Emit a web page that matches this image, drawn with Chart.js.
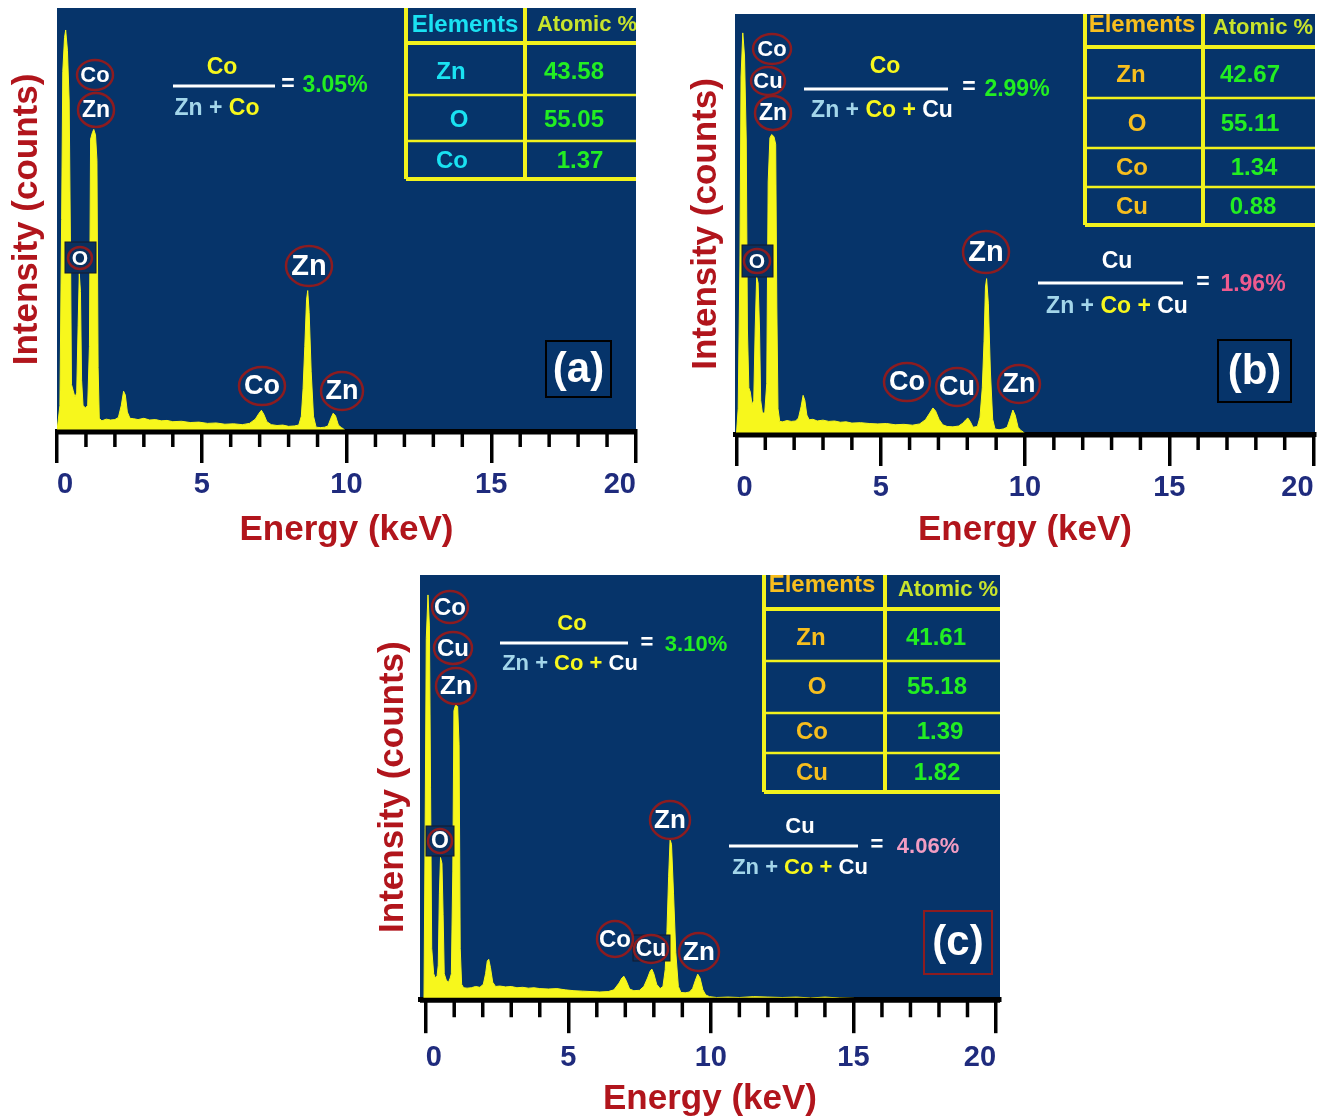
<!DOCTYPE html>
<html>
<head>
<meta charset="utf-8">
<script src="https://cdn.jsdelivr.net/npm/chart.js@4.4.1/dist/chart.umd.min.js"></script>
<style>
  body { margin: 0; background: #fff; }
  #wrap { position: relative; width: 1327px; height: 1117px; overflow: hidden; background: #fff; }
  #wrap canvas { position: absolute; left: 0; top: 0; }
</style>
</head>
<body>
<div id="wrap">
  <canvas id="chartA" width="1327" height="1117"></canvas>
  <canvas id="chartB" width="1327" height="1117"></canvas>
  <canvas id="chartC" width="1327" height="1117"></canvas>
</div>
<script>
// tick values (keV)
const xMajor = [0, 5, 10, 15, 20];
const xMinor = [1, 2, 3, 4, 6, 7, 8, 9, 11, 12, 13, 14, 16, 17, 18, 19];

// (a) Zn-Co-O spectrum
const energyA = [0, 0.1, 0.16, 0.2, 0.26, 0.3, 0.36, 0.42, 0.47, 0.5, 0.56, 0.62, 0.68, 0.73, 0.77, 0.81, 0.85, 0.9, 0.98, 1.06,
  1.12, 1.16, 1.22, 1.27, 1.33, 1.38, 1.42, 1.46, 1.55, 1.7, 1.85, 2.0, 2.12, 2.22, 2.3, 2.36, 2.43, 2.52, 2.65,
  2.8, 3.0, 3.2, 3.4, 3.6, 3.8, 4.0, 4.3, 4.6, 4.9, 5.2, 5.5, 5.8, 6.1, 6.4, 6.65, 6.85, 6.98, 7.06, 7.14,
  7.25, 7.4, 7.6, 7.8, 8.0, 8.2, 8.35, 8.44, 8.5, 8.56, 8.62, 8.66, 8.71, 8.78, 8.86, 8.95, 9.1, 9.25, 9.36, 9.46, 9.54,
  9.62, 9.72, 9.82, 9.9, 9.96];
const countsA = [0, 60, 500, 850, 930, 948, 900, 780, 400, 110, 95, 80, 90, 250, 372, 330, 120, 60, 55, 60,
  200, 690, 705, 713, 700, 640, 150, 30, 24, 28, 26, 27, 32, 60, 94, 85, 45, 30, 29,
  27, 30, 26, 27, 24, 25, 22, 23, 20, 21, 18, 19, 16, 17, 15, 18, 28, 42, 49, 40,
  22, 15, 13, 14, 11, 12, 14, 35, 100, 200, 310, 332, 280, 140, 35, 9, 8, 9, 12, 30, 42,
  36, 14, 8, 5, 0];

// (b) Zn-Co-Cu-O spectrum
const energyB = [0, 0.06, 0.12, 0.16, 0.22, 0.28, 0.34, 0.38, 0.43, 0.48, 0.54, 0.6, 0.65, 0.7, 0.75, 0.8, 0.84, 0.9, 0.98, 1.05,
  1.1, 1.16, 1.22, 1.3, 1.36, 1.4, 1.44, 1.5, 1.6, 1.75, 1.9, 2.05, 2.15, 2.24, 2.31, 2.37, 2.44, 2.52, 2.65, 2.8,
  3.0, 3.2, 3.4, 3.6, 3.8, 4.0, 4.3, 4.6, 4.9, 5.2, 5.5, 5.8, 6.1, 6.35, 6.55, 6.7, 6.81, 6.9, 7.02, 7.15,
  7.3, 7.5, 7.7, 7.85, 7.95, 8.02, 8.1, 8.2, 8.35, 8.44, 8.52, 8.58, 8.63, 8.67, 8.73, 8.8, 8.88, 8.96, 9.1, 9.25, 9.38,
  9.5, 9.58, 9.66, 9.76, 9.86, 9.94, 10.0];
const countsB = [0, 60, 400, 850, 955, 900, 700, 250, 110, 100, 70, 80, 250, 374, 360, 250, 80, 50, 50, 120,
  600, 705, 713, 708, 690, 300, 60, 30, 29, 32, 30, 31, 38, 65, 92, 80, 45, 34, 35, 31,
  33, 30, 31, 28, 29, 26, 27, 25, 24, 25, 22, 23, 21, 24, 34, 50, 62, 55, 35, 22,
  18, 17, 19, 26, 34, 38, 30, 16, 18, 40, 110, 220, 350, 370, 310, 150, 35, 12, 10, 12, 16,
  40, 57, 45, 16, 8, 5, 0];

// (c) Zn-Co-Cu-O spectrum
const energyC = [-0.06, -0.02, 0.02, 0.08, 0.13, 0.17, 0.21, 0.28, 0.34, 0.4, 0.44, 0.48, 0.52, 0.57, 0.61, 0.65, 0.72, 0.8, 0.86, 0.9,
  0.95, 0.99, 1.05, 1.12, 1.17, 1.21, 1.26, 1.33, 1.45, 1.6, 1.75, 1.9, 2.02, 2.1, 2.16, 2.21, 2.27, 2.35, 2.45, 2.6, 2.8,
  3.0, 3.2, 3.4, 3.6, 3.8, 4.0, 4.3, 4.6, 4.9, 5.2, 5.5, 5.8, 6.1, 6.4, 6.6, 6.78, 6.88, 6.95, 7.03, 7.15,
  7.3, 7.5, 7.65, 7.78, 7.87, 7.93, 8.0, 8.1, 8.22, 8.32, 8.4, 8.46, 8.52, 8.57, 8.62, 8.69, 8.77, 8.86, 8.95, 9.1, 9.25,
  9.36, 9.46, 9.54, 9.62, 9.72, 9.82, 9.95, 10.2, 10.6, 11.0, 11.5, 12.0, 12.5, 13.0, 13.5, 14.0, 14.5, 15.0, 15.2];
const countsC = [0, 400, 850, 953, 880, 500, 120, 60, 50, 55, 80, 250, 334, 320, 200, 60, 45, 40, 50, 60,
  300, 680, 694, 690, 600, 120, 35, 27, 26, 27, 30, 28, 35, 60, 90, 94, 75, 40, 30, 31, 29,
  30, 27, 28, 26, 27, 25, 24, 25, 22, 20, 19, 18, 17, 18, 22, 38, 50, 54, 44, 24,
  20, 21, 30, 50, 66, 71, 60, 35, 25, 30, 70, 160, 290, 376, 365, 250, 110, 30, 16, 15, 17,
  25, 45, 59, 50, 22, 10, 6, 4, 5, 4, 6, 5, 4, 5, 3, 5, 3, 2, 0];

// composition tables (atomic %)
const elementsA = ['Zn', 'O', 'Co'];
const atomicA = ['43.58', '55.05', '1.37'];
const elementsB = ['Zn', 'O', 'Co', 'Cu'];
const atomicB = ['42.67', '55.11', '1.34', '0.88'];
const elementsC = ['Zn', 'O', 'Co', 'Cu'];
const atomicC = ['41.61', '55.18', '1.39', '1.82'];
const coRatio = ['3.05%', '2.99%', '3.10%'];
const cuRatio = ['', '1.96%', '4.06%'];

const FONT = '"Liberation Sans", Arial, sans-serif';
const BG = '#06346a';
const YEL = '#f7f71c';
const LBLUE = '#a3d6ea';
const WHITE = '#ffffff';
const GREEN = '#22ee22';
const CYAN = '#1ae2f2';
const ORANGE = '#f7be1e';
const YGREEN = '#c8e42c';
const RING = '#8c1c20';

function segs(ctx, parts, cx, y) {
  let w = 0;
  parts.forEach(p => { w += ctx.measureText(p[0]).width; });
  let x = cx - w / 2;
  ctx.textAlign = 'left';
  parts.forEach(p => { ctx.fillStyle = p[1]; ctx.fillText(p[0], x, y); x += ctx.measureText(p[0]).width; });
}

function drawFraction(ctx, f, size) {
  ctx.font = 'bold ' + size + 'px ' + FONT;
  ctx.textBaseline = 'middle';
  segs(ctx, f.num, f.numX, f.numY);
  ctx.strokeStyle = WHITE;
  ctx.lineWidth = 3;
  ctx.beginPath();
  ctx.moveTo(f.line[0], f.line[2]);
  ctx.lineTo(f.line[1], f.line[2]);
  ctx.stroke();
  segs(ctx, f.den, f.denX, f.denY);
  segs(ctx, [['=', WHITE]], f.eqX, f.eqY);
  segs(ctx, [[f.val, f.valColor]], f.valX, f.valY);
}

function drawTable(ctx, t, names, values) {
  ctx.strokeStyle = '#f2f21e';
  ctx.lineWidth = 4;
  ctx.beginPath();
  ctx.moveTo(t.left, t.top); ctx.lineTo(t.left, t.bottom);
  ctx.moveTo(t.mid, t.top); ctx.lineTo(t.mid, t.bottom);
  ctx.moveTo(t.left, t.header); ctx.lineTo(t.right, t.header);
  ctx.moveTo(t.left, t.bottom); ctx.lineTo(t.right, t.bottom);
  ctx.stroke();
  ctx.lineWidth = 2.5;
  ctx.beginPath();
  t.rows.forEach(y => { ctx.moveTo(t.left, y); ctx.lineTo(t.right, y); });
  ctx.stroke();
  ctx.textBaseline = 'middle';
  ctx.font = 'bold 24px ' + FONT;
  segs(ctx, [['Elements', t.headColor]], t.headX[0], t.headY[0]);
  ctx.font = 'bold 22px ' + FONT;
  segs(ctx, [['Atomic %', YGREEN]], t.headX[1], t.headY[1]);
  ctx.font = 'bold 24px ' + FONT;
  names.forEach((n, i) => {
    segs(ctx, [[n, t.nameColor]], t.nameX[i], t.rowY[i]);
    segs(ctx, [[values[i], GREEN]], t.valX[i], t.rowY[i]);
  });
}

function drawLabels(ctx, p) {
  ctx.textBaseline = 'middle';
  p.boxes.forEach(b => {
    ctx.fillStyle = '#09305f';
    ctx.fillRect(b[0], b[1], b[2] - b[0], b[3] - b[1]);
    ctx.strokeStyle = '#14182a';
    ctx.lineWidth = 1;
    ctx.strokeRect(b[0], b[1], b[2] - b[0], b[3] - b[1]);
  });
  p.rings.forEach(r => {
    ctx.strokeStyle = RING;
    ctx.lineWidth = 2.5;
    ctx.beginPath();
    ctx.ellipse(r.x, r.y, r.rx, r.ry, 0, 0, Math.PI * 2);
    ctx.stroke();
    ctx.font = 'bold ' + r.s + 'px ' + FONT;
    segs(ctx, [[r.t, WHITE]], r.x, r.y + 1);
  });
  const b = p.tag;
  ctx.strokeStyle = b.color;
  ctx.lineWidth = 2;
  ctx.strokeRect(b.box[0], b.box[1], b.box[2] - b.box[0], b.box[3] - b.box[1]);
  ctx.font = 'bold 42px ' + FONT;
  segs(ctx, [[b.text, WHITE]], (b.box[0] + b.box[2]) / 2, (b.box[1] + b.box[3]) / 2 + 1);
}

const panels = [
  {
    id: 'chartA', energy: energyA, counts: countsA, xMin: 0, xMax: 20,
    pad: { left: 9.5, right: 691, top: 8, bottom: 569.5 },
    yTitlePad: 12.5, tickLen: 32, minorLen: 16, tickPad: 5, xTitlePad: 4.7,
    table: { left: 406, mid: 525, right: 636, top: 8, header: 43, rows: [95, 141], bottom: 179,
      headX: [465, 587], headY: [25, 25], rowY: [72, 120, 161], nameX: [451, 459, 452], valX: [574, 574, 580],
      headColor: CYAN, nameColor: CYAN },
    names: elementsA, values: atomicA, fsize: 23,
    fractions: [
      { num: [['Co', YEL]], numX: 222, numY: 68, line: [173, 275, 86],
        den: [['Zn + ', LBLUE], ['Co', YEL]], denX: 217, denY: 109,
        eqX: 288, eqY: 85, val: coRatio[0], valColor: GREEN, valX: 335, valY: 86 }
    ],
    boxes: [[65, 242, 96, 273]],
    rings: [
      { t: 'Co', x: 95, y: 75, rx: 18, ry: 15, s: 22 },
      { t: 'Zn', x: 96, y: 110, rx: 18, ry: 17, s: 23 },
      { t: 'O', x: 80, y: 258, rx: 12, ry: 11, s: 21 },
      { t: 'Zn', x: 309, y: 266, rx: 23, ry: 20, s: 29 },
      { t: 'Co', x: 262, y: 386, rx: 23, ry: 19, s: 27 },
      { t: 'Zn', x: 342, y: 391, rx: 21, ry: 19, s: 27 }
    ],
    tag: { text: '(a)', box: [546, 341, 611, 397], color: '#000000' }
  },
  {
    id: 'chartB', energy: energyB, counts: countsB, xMin: -0.05, xMax: 20.05,
    pad: { left: 688.5, right: 12, top: 14, bottom: 569.5 },
    yTitlePad: 11.5, tickLen: 32, minorLen: 16, tickPad: 5, xTitlePad: 1.7,
    table: { left: 1085, mid: 1203, right: 1315, top: 14, header: 47, rows: [98, 148, 187], bottom: 225,
      headX: [1142, 1263], headY: [25, 28], rowY: [75, 124, 168, 207], nameX: [1131, 1137, 1132, 1132],
      valX: [1250, 1250, 1254, 1253], headColor: ORANGE, nameColor: ORANGE },
    names: elementsB, values: atomicB, fsize: 23,
    fractions: [
      { num: [['Co', YEL]], numX: 885, numY: 67, line: [804, 948, 89],
        den: [['Zn + ', LBLUE], ['Co', YEL], [' + ', YEL], ['Cu', WHITE]], denX: 882, denY: 111,
        eqX: 969, eqY: 88, val: coRatio[1], valColor: GREEN, valX: 1017, valY: 90 },
      { num: [['Cu', WHITE]], numX: 1117, numY: 262, line: [1038, 1183, 283],
        den: [['Zn + ', LBLUE], ['Co', YEL], [' + ', YEL], ['Cu', WHITE]], denX: 1117, denY: 307,
        eqX: 1203, eqY: 283, val: cuRatio[1], valColor: '#ee5a8e', valX: 1253, valY: 285 }
    ],
    boxes: [[742, 245, 773, 277]],
    rings: [
      { t: 'Co', x: 772, y: 49, rx: 19, ry: 15, s: 22 },
      { t: 'Cu', x: 768, y: 81, rx: 17, ry: 14, s: 22 },
      { t: 'Zn', x: 773, y: 113, rx: 18, ry: 17, s: 23 },
      { t: 'O', x: 757, y: 261, rx: 13, ry: 12, s: 21 },
      { t: 'Zn', x: 986, y: 252, rx: 23, ry: 21, s: 29 },
      { t: 'Co', x: 907, y: 382, rx: 23, ry: 19, s: 27 },
      { t: 'Cu', x: 957, y: 387, rx: 21, ry: 19, s: 27 },
      { t: 'Zn', x: 1019, y: 384, rx: 21, ry: 19, s: 27 }
    ],
    tag: { text: '(b)', box: [1218, 340, 1291, 402], color: '#000000' }
  },
  {
    id: 'chartC', energy: energyC, counts: countsC, xMin: -0.2, xMax: 20.14,
    pad: { left: 375.5, right: 327, top: 575, bottom: 0 },
    yTitlePad: 9.5, tickLen: 34, minorLen: 18, tickPad: 7, xTitlePad: 0,
    table: { left: 764, mid: 885, right: 1000, top: 575, header: 609, rows: [661, 713, 753], bottom: 792,
      headX: [822, 948], headY: [585, 590], rowY: [638, 687, 732, 773], nameX: [811, 817, 812, 812],
      valX: [936, 937, 940, 937], headColor: ORANGE, nameColor: ORANGE },
    names: elementsC, values: atomicC, fsize: 22,
    fractions: [
      { num: [['Co', YEL]], numX: 572, numY: 624, line: [500, 628, 643],
        den: [['Zn + ', LBLUE], ['Co', YEL], [' + ', YEL], ['Cu', WHITE]], denX: 570, denY: 664,
        eqX: 647, eqY: 643, val: coRatio[2], valColor: GREEN, valX: 696, valY: 645 },
      { num: [['Cu', WHITE]], numX: 800, numY: 827, line: [729, 858, 846],
        den: [['Zn + ', LBLUE], ['Co', YEL], [' + ', YEL], ['Cu', WHITE]], denX: 800, denY: 868,
        eqX: 877, eqY: 845, val: cuRatio[2], valColor: '#f29cc2', valX: 928, valY: 847 }
    ],
    boxes: [[426, 826, 454, 856], [633, 935, 670, 961]],
    rings: [
      { t: 'Co', x: 450, y: 607, rx: 18, ry: 16, s: 24 },
      { t: 'Cu', x: 453, y: 648, rx: 19, ry: 16, s: 24 },
      { t: 'Zn', x: 456, y: 686, rx: 20, ry: 18, s: 26 },
      { t: 'O', x: 440, y: 841, rx: 12, ry: 12, s: 23 },
      { t: 'Zn', x: 670, y: 820, rx: 20, ry: 19, s: 26 },
      { t: 'Co', x: 615, y: 939, rx: 18, ry: 18, s: 24 },
      { t: 'Cu', x: 651, y: 949, rx: 17, ry: 14, s: 23 },
      { t: 'Zn', x: 699, y: 952, rx: 20, ry: 19, s: 26 }
    ],
    tag: { text: '(c)', box: [924, 911, 992, 974], color: '#8c1c20' }
  }
];

panels.forEach(p => {
  const decor = {
    id: 'decor',
    beforeDraw(chart) {
      const a = chart.chartArea, ctx = chart.ctx;
      ctx.save();
      ctx.fillStyle = BG;
      ctx.fillRect(a.left, a.top, a.right - a.left, a.bottom - a.top);
      ctx.restore();
    },
    afterDatasetsDraw(chart) {
      const a = chart.chartArea, ctx = chart.ctx;
      ctx.save();
      ctx.beginPath();
      ctx.rect(a.left, a.top, a.right - a.left, a.bottom - a.top);
      ctx.clip();
      drawLabels(ctx, p);
      p.fractions.forEach(f => drawFraction(ctx, f, p.fsize));
      drawTable(ctx, p.table, p.names, p.values);
      ctx.restore();
    },
    afterDraw(chart) {
      const a = chart.chartArea, ctx = chart.ctx, x = chart.scales.x;
      ctx.save();
      ctx.strokeStyle = '#000';
      ctx.lineWidth = 3.5;
      ctx.beginPath();
      xMinor.forEach(v => {
        const px = x.getPixelForValue(v);
        ctx.moveTo(px, a.bottom);
        ctx.lineTo(px, a.bottom + p.minorLen);
      });
      ctx.stroke();
      ctx.lineWidth = 5;
      ctx.beginPath();
      ctx.moveTo(a.left, a.bottom + 1);
      ctx.lineTo(a.right, a.bottom + 1);
      ctx.stroke();
      ctx.restore();
    }
  };

  new Chart(document.getElementById(p.id), {
    type: 'line',
    data: {
      datasets: [{
        data: p.energy.map((e, i) => ({ x: e, y: p.counts[i] })),
        borderColor: YEL,
        backgroundColor: YEL,
        borderWidth: 1,
        pointRadius: 0,
        tension: 0,
        fill: 'origin'
      }]
    },
    options: {
      responsive: false,
      animation: false,
      events: [],
      layout: { padding: p.pad },
      plugins: { legend: { display: false }, tooltip: { enabled: false } },
      scales: {
        x: {
          type: 'linear',
          min: p.xMin,
          max: p.xMax,
          afterBuildTicks: axis => { axis.ticks = xMajor.map(v => ({ value: v })); },
          ticks: {
            align: 'inner',
            maxRotation: 0,
            padding: p.tickPad,
            color: '#1f2b7d',
            font: { family: FONT, size: 29, weight: 'bold', lineHeight: 1.2 }
          },
          grid: {
            display: true,
            drawOnChartArea: false,
            drawTicks: true,
            tickLength: p.tickLen,
            tickWidth: 3.5,
            tickColor: '#000',
            color: '#000',
            lineWidth: 3.5
          },
          border: { display: true, color: '#000', width: 5 },
          title: {
            display: true,
            text: 'Energy (keV)',
            color: '#b1151c',
            padding: { top: p.xTitlePad, bottom: 0 },
            font: { family: FONT, size: 35, weight: 'bold', lineHeight: 1 }
          }
        },
        y: {
          min: 0,
          max: 1000,
          ticks: { display: false },
          grid: { display: false, drawTicks: false, tickLength: 0 },
          border: { display: false },
          title: {
            display: true,
            text: 'Intensity (counts)',
            color: '#b1151c',
            padding: { top: 0, bottom: p.yTitlePad },
            font: { family: FONT, size: 35, weight: 'bold', lineHeight: 1 }
          }
        }
      }
    },
    plugins: [decor]
  });
});
</script>
</body>
</html>
